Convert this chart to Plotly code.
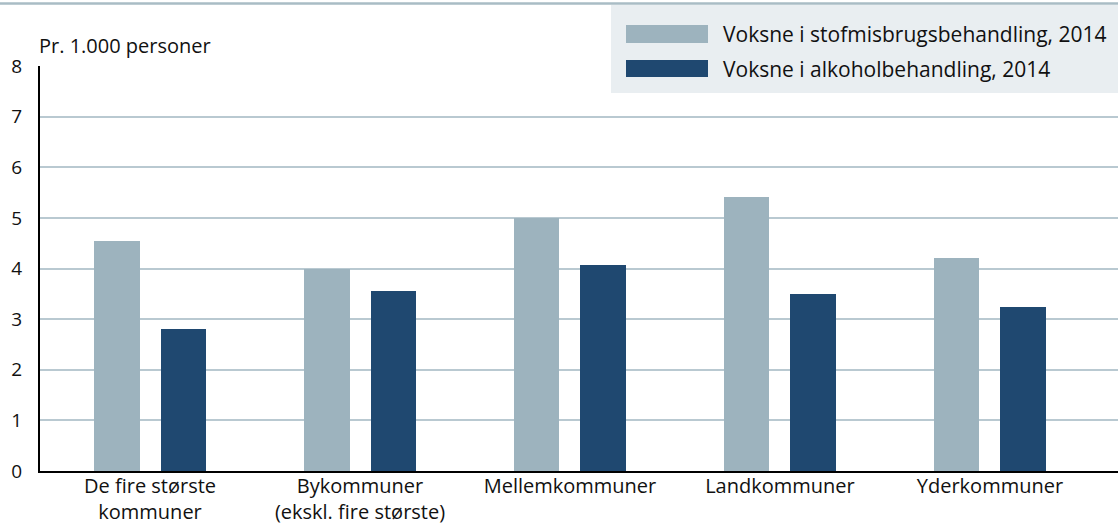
import plotly.graph_objects as go

categories = ["De fire største<br>kommuner", "Bykommuner<br>(ekskl. fire største)",
              "Mellemkommuner", "Landkommuner", "Yderkommuner"]
series_names = ["Voksne i stofmisbrugsbehandling, 2014", "Voksne i alkoholbehandling, 2014"]
stof = [4.55, 4.0, 5.0, 5.41, 4.2]
alkohol = [2.81, 3.55, 4.06, 3.5, 3.24]
y_ticks = [0, 1, 2, 3, 4, 5, 6, 7, 8]
y_title = "Pr. 1.000 personer"

W, H = 1118, 526
L, R, T, B = 40, 1118, 66, 471
FONT = "Open Sans"
colors = ["#9db3be", "#1f4870"]

def px(x):
    return (x - L) / (R - L)

def py(y):
    return (B - y) / (B - T)

fig = go.Figure()
fig.add_trace(go.Bar(x=list(range(len(categories))), y=stof, name=series_names[0],
                     marker=dict(color=colors[0], line=dict(width=0)),
                     width=0.215, offset=-0.265, showlegend=False))
fig.add_trace(go.Bar(x=list(range(len(categories))), y=alkohol, name=series_names[1],
                     marker=dict(color=colors[1], line=dict(width=0)),
                     width=0.215, offset=0.05, showlegend=False))

shapes = [
    dict(type="line", xref="paper", yref="paper", x0=px(0), x1=px(W), y0=py(3.5), y1=py(3.5),
         line=dict(color="#a9bcc5", width=2.5), layer="above"),
    dict(type="rect", xref="paper", yref="paper", x0=px(611), x1=px(W), y0=py(5), y1=py(93),
         fillcolor="#e9eef1", line=dict(width=0), layer="above"),
]
annotations = [
    dict(text=y_title, xref="paper", yref="paper", x=px(37), y=py(45), xanchor="left",
         yanchor="middle", showarrow=False, font=dict(family=FONT, size=20, color="#111")),
]
sw = [(25, 43), (60, 77)]
for i, (a, b) in enumerate(sw):
    shapes.append(dict(type="rect", xref="paper", yref="paper", x0=px(626), x1=px(708),
                       y0=py(a), y1=py(b), fillcolor=colors[i], line=dict(width=0), layer="above"))
    annotations.append(dict(text=series_names[i], xref="paper", yref="paper", x=px(721),
                            y=py((a + b) / 2), xanchor="left", yanchor="middle", showarrow=False,
                            font=dict(family=FONT, size=21, color="#111")))

fig.update_layout(
    width=W, height=H,
    margin=dict(l=L, r=W - R, t=T, b=H - B),
    paper_bgcolor="white", plot_bgcolor="white",
    shapes=shapes, annotations=annotations,
    bargap=0,
    font=dict(family=FONT, size=17, color="#111"),
    xaxis=dict(
        range=[-0.524, 4.61], tickmode="array", tickvals=list(range(len(categories))),
        ticktext=categories, showgrid=False, zeroline=False, automargin=False,
        showline=True, linecolor="black", linewidth=2,
        ticks="", ticklabelstandoff=-4,
        tickfont=dict(family=FONT, size=20, color="#111"),
    ),
    yaxis=dict(
        range=[0, 8], tickmode="array", tickvals=y_ticks, ticktext=[str(v) for v in y_ticks],
        showgrid=True, gridcolor="#b9c9d1", gridwidth=1.5, zeroline=False, automargin=False,
        showline=True, linecolor="black", linewidth=2,
        ticks="outside", ticklen=12, tickcolor="rgba(0,0,0,0)",
        tickfont=dict(family=FONT, size=19, color="#111"),
    ),
)

fig.write_html("out.html", config={"displayModeBar": False},
               post_script="document.body.style.margin='0';document.body.style.padding='0';")
